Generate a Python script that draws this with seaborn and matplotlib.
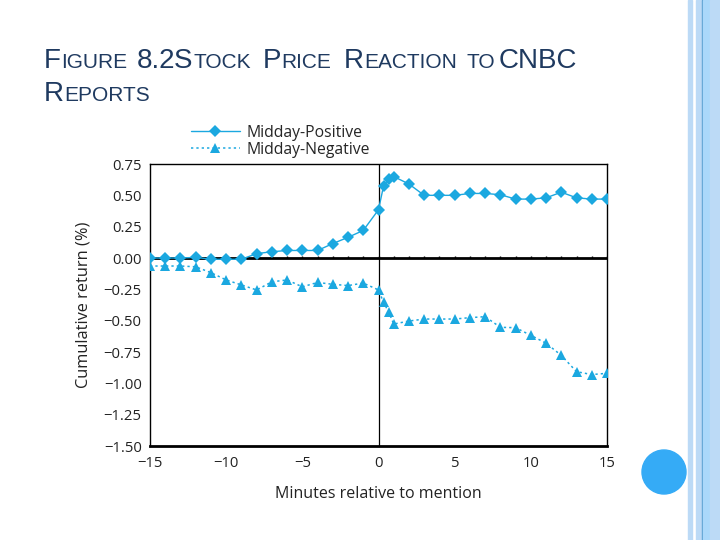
import numpy as np
import pandas as pd
import seaborn as sbn
from matplotlib import pyplot as plt
from matplotlib.patches import Rectangle, Ellipse

# minutes relative to the CNBC mention (three readings inside the first minute)
minutes = [-15, -14, -13, -12, -11, -10, -9, -8, -7, -6, -5, -4, -3, -2, -1, 0,
           1 / 3, 2 / 3, 1, 2, 3, 4, 5, 6, 7, 8, 9, 10, 11, 12, 13, 14, 15]
midday_positive = [0.00, 0.00, 0.00, 0.005, -0.01, -0.01, -0.01, 0.035, 0.05, 0.06,
                   0.06, 0.06, 0.115, 0.165, 0.22, 0.385, 0.575, 0.63, 0.65, 0.59,
                   0.50, 0.50, 0.50, 0.515, 0.515, 0.505, 0.47, 0.47, 0.48, 0.525,
                   0.48, 0.47, 0.47]
midday_negative = [-0.064, -0.064, -0.064, -0.07, -0.117, -0.175, -0.215, -0.255,
                   -0.19, -0.175, -0.23, -0.195, -0.21, -0.22, -0.20, -0.255,
                   -0.355, -0.43, -0.527, -0.503, -0.487, -0.487, -0.487, -0.476,
                   -0.468, -0.553, -0.556, -0.617, -0.68, -0.777, -0.907, -0.93,
                   -0.92]
y_ticks = [0.75, 0.50, 0.25, 0.00, -0.25, -0.50, -0.75, -1.00, -1.25, -1.50]
x_ticks = [-15, -10, -5, 0, 5, 10, 15]

mydata = pd.DataFrame({'minute': minutes,
                       'Midday-Positive': midday_positive,
                       'Midday-Negative': midday_negative})

sbn.set_style('white')
plt.rcParams['font.family'] = ['Open Sans', 'DejaVu Sans']

cyan = '#1ba8e0'
navy = '#1f3a60'

fig = plt.figure(figsize=(7.2, 5.4), dpi=100)
fig.patch.set_facecolor('white')

# slide decoration: stripes on the right and the blue dot
for x0, w, c in [(688, 4, '#bcdaf6'), (696, 6, '#bcdaf6'), (702, 1, '#5a9fd0'),
                 (703, 7, '#aad8fa'), (710, 10, '#bcdaf6')]:
    fig.patches.append(Rectangle((x0 / 720, 0), w / 720, 1, transform=fig.transFigure,
                                 color=c, zorder=0))
fig.patches.append(Ellipse((664 / 720, 1 - 472 / 540), 44 / 720, 44 / 540,
                           transform=fig.transFigure, color='#35abf6', zorder=1))

ax = fig.add_axes([150 / 720, 1 - 446 / 540, 457 / 720, 282 / 540])

ax.axhline(0, color='black', linewidth=2, zorder=1)
ax.axvline(0, color='black', linewidth=0.9, zorder=1)
ax.vlines(range(-15, 16), 0, 0.018, color='black', linewidth=1, zorder=1)

sbn.lineplot(x='minute', y='Midday-Positive', data=mydata, ax=ax, color=cyan,
             linewidth=1, marker='D', markersize=6.5, markeredgewidth=0,
             label='Midday-Positive', zorder=3)
sbn.lineplot(x='minute', y='Midday-Negative', data=mydata, ax=ax, color=cyan,
             linewidth=1.1, linestyle=(0, (1.5, 2)), marker='^', markersize=6.5,
             markeredgewidth=0, label='Midday-Negative', zorder=3)

ax.set_xlim(-15, 15)
ax.set_ylim(-1.5, 0.75)
ax.set_xticks(x_ticks)
ax.set_yticks(y_ticks)
ax.set_yticklabels([f'{v:.2f}'.replace('-', '\u2212') for v in y_ticks])
ax.set_xticklabels([str(v).replace('-', '\u2212') for v in x_ticks])
ax.tick_params(axis='both', length=0, labelsize=10.7, colors='#222222')
ax.tick_params(axis='y', pad=6)
ax.tick_params(axis='x', pad=7)

for side in ['left', 'top', 'right']:
    ax.spines[side].set_linewidth(1)
    ax.spines[side].set_color('black')
ax.spines['bottom'].set_linewidth(2)
ax.spines['bottom'].set_color('black')

ax.set_xlabel('Minutes relative to mention', fontsize=11.5, color='#222222', labelpad=11)
ax.set_ylabel('Cumulative return (%)', fontsize=11.8, color='#222222', labelpad=9)

ax.legend(loc='upper left', bbox_to_anchor=(183 / 720, 1 - 117 / 540),
          bbox_transform=fig.transFigure, frameon=False, fontsize=11.3,
          handlelength=3.1, handletextpad=0.45, labelspacing=0.05, borderpad=0)


# title in small caps, drawn run by run
def small_caps(runs, x, y, big=20, small=15):
    renderer = fig.canvas.get_renderer()
    for text, is_big, gap in runs:
        t = fig.text(x, y, text, fontsize=big if is_big else small, color=navy,
                     family=['Liberation Sans', 'DejaVu Sans'], va='baseline')
        ext = t.get_window_extent(renderer)
        x = ext.x1 / 720 + gap / 720


line1 = [('F', True, 0.5), ('IGURE', False, 9), ('8.2', True, -1), ('S', True, 0.5),
         ('TOCK', False, 12), ('P', True, 0.5), ('RICE', False, 12), ('R', True, 0.5),
         ('EACTION', False, 10), ('TO', False, 3), ('CNBC', True, 0.5)]
line2 = [('R', True, 0.5), ('EPORTS', False, 0)]
small_caps(line1, 44 / 720, 1 - 68 / 540)
small_caps(line2, 44 / 720, 1 - 101 / 540)

plt.savefig('out.png', dpi=100)
